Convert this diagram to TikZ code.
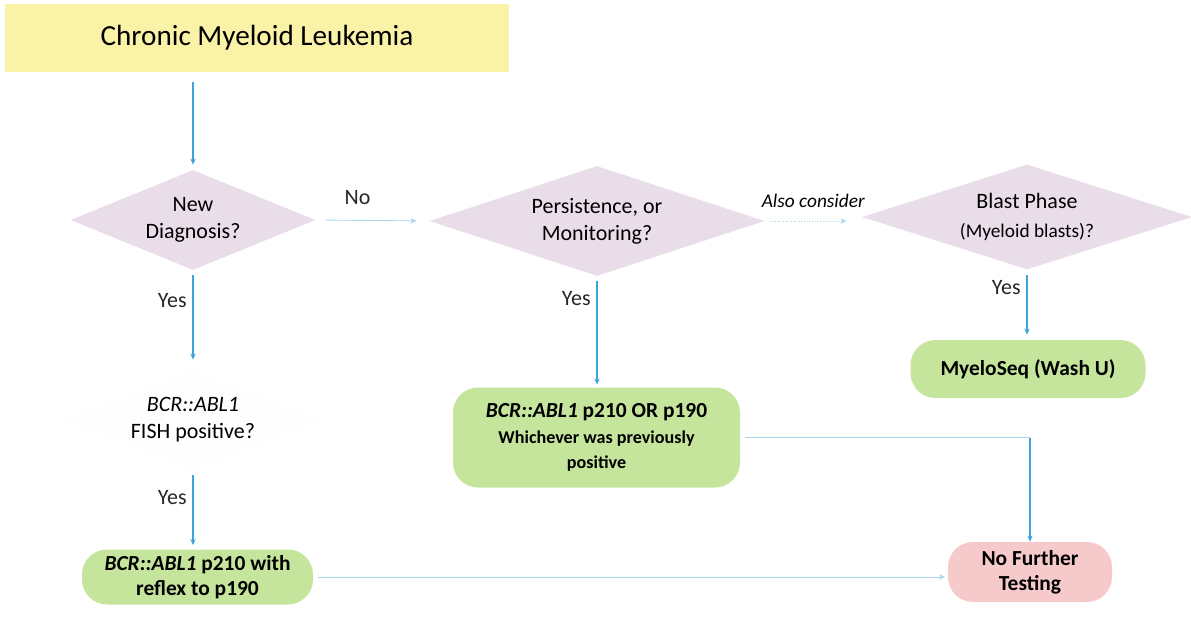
\documentclass[tikz,border=0pt]{standalone}
\usepackage{fontspec}
\setmainfont{Carlito}
\usetikzlibrary{arrows.meta, calc, shapes.geometric, positioning}
\definecolor{cmlYellow}{HTML}{FAF2A6}
\definecolor{cmlLilac}{HTML}{EADDEA}
\definecolor{cmlGreen}{HTML}{C6E59C}
\definecolor{cmlPink}{HTML}{F6CACA}
\definecolor{cmlBlue}{HTML}{3DA5DA}
\definecolor{cmlPale}{HTML}{A9D6EC}
\tikzset{
  question/.style={
    diamond, aspect=3, fill=cmlLilac, draw=none, inner sep=0pt, align=center, font=\fontsize{12.5}{15.5}\selectfont
  },
  testbox/.style={
    rectangle, rounded corners=0.5cm, fill=cmlGreen, draw=none, align=center, font=\fontsize{12.2}{14}\selectfont\bfseries
  },
  flow/.style={
    draw=cmlBlue, line width=0.6pt, -{Stealth[length=3.5pt,width=3pt]}
  },
  faintflow/.style={
    draw=cmlPale, line width=0.5pt, -{Stealth[length=3.5pt,width=3pt]}
  },
  answer/.style={
    font=\fontsize{12.5}{15}\selectfont, text=black!85
  }
}
\begin{document}
\begin{tikzpicture}
        \useasboundingbox (0,0) rectangle (23.82,-12.36);
        \node[rectangle, fill=cmlYellow, minimum width=10.06cm, minimum height=1.36cm, font=\fontsize{16.6}{19}\selectfont] (cml) at (5.14,-0.76) {Chronic Myeloid Leukemia};
        \node[question, minimum width=4.9cm, minimum height=2cm] (newdx) at (3.86,-4.4) {New\\Diagnosis?};
        \node[question, minimum width=6.7cm, minimum height=2.2cm] (persist) at (11.94,-4.42) {Persistence, or\\Monitoring?};
        \node[question, minimum width=6.6cm, minimum height=2.1cm] (blast) at (20.54,-4.34) {Blast Phase\\[1pt]{\fontsize{11}{13}\selectfont (Myeloid blasts)?}};
        \node[question, fill=white!99!gray, minimum width=4.5cm, minimum height=2cm] (fish) at (3.86,-8.4) {\textit{BCR::ABL1}\\FISH positive?};
        \node[testbox, minimum width=4.62cm, minimum height=1.1cm] (reflex) at (3.95,-11.54) {\textit{BCR::ABL1} p210 with\\reflex to p190};
        \node[testbox, minimum width=5.74cm, minimum height=2cm] (either) at (11.93,-8.75) {\textit{BCR::ABL1} p210 OR p190\\[1pt]{\fontsize{10.3}{11}\selectfont Whichever was previously}\\{\fontsize{10.3}{11}\selectfont positive}};
        \node[testbox, minimum width=4.7cm, minimum height=1.16cm] (myelo) at (20.56,-7.38) {MyeloSeq (Wash U)};
        \node[testbox, fill=cmlPink, minimum width=3.28cm, minimum height=1.2cm] (nft) at (20.6,-11.44) {No Further\\Testing};
        \coordinate (bend) at (either.east -| nft.north);

        \draw[flow, shorten <=0.2cm, shorten >=0.1cm] (newdx.north |- cml.south) -- (newdx.north);
        \draw[faintflow, shorten <=0.2cm, shorten >=0.25cm] (newdx.east) -- (persist.west) node[answer, midway, above=0.2cm, xshift=-0.3cm] {No};
        \draw[faintflow, densely dotted, shorten <=0.1cm, shorten >=0.3cm] (persist.east) -- (blast.west |- persist.east) node[midway, above=0.15cm, font=\fontsize{11}{13}\selectfont\itshape] {Also consider};
        \draw[flow, shorten <=0.1cm, shorten >=0.2cm] (newdx.south) -- (fish.north) node[answer, pos=0.3, left] {Yes};
        \draw[flow, shorten <=0.1cm, shorten >=0.08cm] (fish.south) -- (fish.south |- reflex.north) node[answer, pos=0.35, left] {Yes};
        \draw[flow, shorten <=0.1cm, shorten >=0.05cm] (persist.south) -- (persist.south |- either.north) node[answer, pos=0.2, left] {Yes};
        \draw[flow, shorten <=0.1cm, shorten >=0.1cm] (blast.south) -- (blast.south |- myelo.north) node[answer, pos=0.25, left] {Yes};
        \draw[faintflow, shorten <=0.1cm, shorten >=0.05cm] (reflex.east) -- (reflex.east -| nft.west);
        \draw[draw=cmlPale, line width=0.5pt, shorten <=0.1cm] (either.east) -- (bend);
        \draw[flow] (bend) -- (nft.north);
\end{tikzpicture}
\end{document}
